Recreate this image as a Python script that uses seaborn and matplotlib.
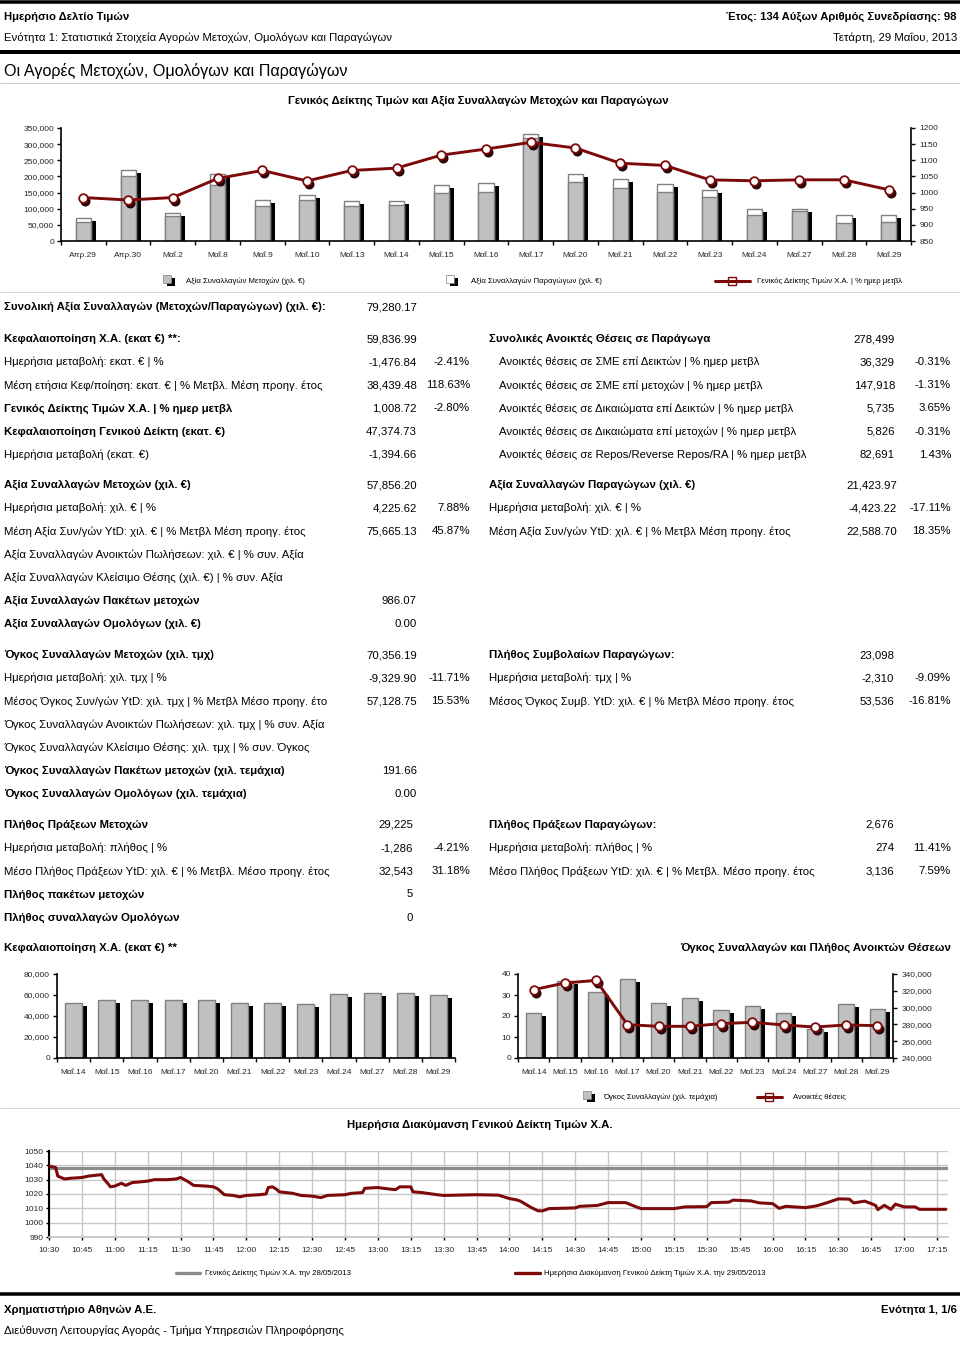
import numpy as np
import pandas as pd
import seaborn as sns
import matplotlib
matplotlib.use("Agg")
import matplotlib.pyplot as plt
import matplotlib.ticker as mticker
from matplotlib import font_manager
from matplotlib.transforms import ScaledTranslation
from matplotlib.lines import Line2D
from matplotlib.patches import Rectangle

# ---------------- data ----------------
top_dates = ['Απρ.29', 'Απρ.30', 'Μαΐ.2', 'Μαΐ.8', 'Μαΐ.9', 'Μαΐ.10', 'Μαΐ.13', 'Μαΐ.14', 'Μαΐ.15',
             'Μαΐ.16', 'Μαΐ.17', 'Μαΐ.20', 'Μαΐ.21', 'Μαΐ.22', 'Μαΐ.23', 'Μαΐ.24', 'Μαΐ.27', 'Μαΐ.28', 'Μαΐ.29']
top_shares = [60000, 200000, 76600, 172000, 107700, 127400, 107700, 111800, 148000,
              153000, 319000, 184000, 163600, 153000, 137700, 80800, 93000, 56000, 57856]
top_derivs = [12500, 18500, 11400, 35000, 19700, 16600, 16300, 12200, 24000,
              26000, 13000, 23000, 26900, 23000, 21800, 19600, 7400, 24700, 21424]
top_index = [984.6, 977.0, 984.6, 1043.6, 1068.5, 1036.0, 1068.5, 1075.7, 1116.0,
             1134.8, 1155.5, 1138.0, 1091.0, 1084.0, 1039.5, 1036.4, 1039.5, 1039.5, 1008.7]

bot_dates = ['Μαΐ.14', 'Μαΐ.15', 'Μαΐ.16', 'Μαΐ.17', 'Μαΐ.20', 'Μαΐ.21', 'Μαΐ.22', 'Μαΐ.23',
             'Μαΐ.24', 'Μαΐ.27', 'Μαΐ.28', 'Μαΐ.29']
mcap = [52400, 54900, 54900, 54900, 54900, 52400, 52400, 51100, 61000, 61900, 61900, 59837]
deriv_volume = [21.4, 36.5, 31.6, 37.6, 26.2, 28.6, 23.0, 24.9, 21.4, 14.0, 25.7, 23.1]
open_positions = [321300, 329300, 332400, 279700, 277700, 277700, 280900, 282500, 279300, 276900, 279300, 278499]

intra_times = ['10:30', '10:33', '10:34', '10:37', '10:40', '10:45', '10:48', '10:54', '10:55', '10:57',
               '10:58', '11:00', '11:03', '11:05', '11:08', '11:12', '11:15', '11:18', '11:24', '11:28',
               '11:30', '11:33', '11:36', '11:42', '11:45', '11:47', '11:50', '11:54', '11:57', '12:00',
               '12:06', '12:09', '12:10', '12:12', '12:14', '12:15', '12:21', '12:25', '12:30', '12:34',
               '12:37', '12:45', '12:48', '12:53', '12:54', '13:00', '13:05', '13:08', '13:10', '13:15',
               '13:16', '13:20', '13:27', '13:30', '13:45', '13:55', '14:00', '14:03', '14:05', '14:10',
               '14:13', '14:15', '14:18', '14:30', '14:32', '14:40', '14:45', '14:53', '14:57', '15:00',
               '15:15', '15:20', '15:30', '15:32', '15:40', '15:42', '15:50', '15:54', '16:00', '16:03',
               '16:06', '16:15', '16:20', '16:25', '16:30', '16:35', '16:37', '16:42', '16:45', '16:47',
               '16:48', '16:51', '16:54', '16:56', '17:00', '17:05', '17:07', '17:19']
intra_values = [1039.5, 1038.5, 1032.5, 1030.5, 1031.0, 1031.5, 1032.5, 1033.5, 1030.5, 1027.0,
                1025.0, 1025.5, 1027.5, 1026.0, 1028.0, 1028.5, 1029.0, 1030.0, 1030.0, 1030.5,
                1031.5, 1029.0, 1026.0, 1025.5, 1025.0, 1023.5, 1019.5, 1019.0, 1018.0, 1019.0,
                1019.5, 1020.0, 1024.5, 1025.0, 1023.0, 1021.5, 1020.5, 1019.0, 1018.5, 1017.5,
                1019.0, 1019.5, 1020.5, 1021.0, 1024.0, 1024.5, 1023.5, 1023.0, 1025.0, 1025.0,
                1021.5, 1021.0, 1019.5, 1019.0, 1019.5, 1019.2, 1016.8, 1016.0, 1015.0, 1010.5,
                1008.3, 1008.2, 1009.8, 1010.3, 1011.4, 1012.0, 1014.0, 1014.0, 1011.5, 1009.8,
                1009.8, 1011.0, 1011.2, 1014.0, 1014.3, 1015.7, 1015.2, 1013.8, 1013.3, 1010.0,
                1011.4, 1010.5, 1011.7, 1014.0, 1016.6, 1016.4, 1013.8, 1015.0, 1013.3, 1012.0,
                1009.1, 1012.1, 1009.3, 1012.9, 1011.0, 1011.0, 1009.3, 1009.3]
prev_close = 1037.8
intra_ticks = ['10:30', '10:45', '11:00', '11:15', '11:30', '11:45', '12:00', '12:15', '12:30', '12:45',
               '13:00', '13:15', '13:30', '13:45', '14:00', '14:15', '14:30', '14:45', '15:00', '15:15',
               '15:30', '15:45', '16:00', '16:15', '16:30', '16:45', '17:00', '17:15']

# table content
total_label = 'Συνολική Αξία Συναλλαγών (Μετοχών/Παραγώγων) (χιλ. €):'
total_value = '79,280.17'

left_sections = [
    [('Κεφαλαιοποίηση Χ.Α. (εκατ €) **:', '59,836.99', '', True),
     ('Ημερήσια μεταβολή: εκατ. € | %', '-1,476.84', '-2.41%', False),
     ('Μέση ετήσια Κεφ/ποίηση: εκατ. € | % Μετβλ. Μέση προηγ. έτος', '38,439.48', '118.63%', False),
     ('Γενικός Δείκτης Τιμών Χ.Α. | % ημερ μετβλ', '1,008.72', '-2.80%', True),
     ('Κεφαλαιοποίηση Γενικού Δείκτη (εκατ. €)', '47,374.73', '', True),
     ('Ημερήσια μεταβολή (εκατ. €)', '-1,394.66', '', False)],
    [('Αξία Συναλλαγών Μετοχών (χιλ. €)', '57,856.20', '', True),
     ('Ημερήσια μεταβολή: χιλ. € | %', '4,225.62', '7.88%', False),
     ('Μέση Αξία Συν/γών YtD: χιλ. € | % Μετβλ Μέση προηγ. έτος', '75,665.13', '45.87%', False),
     ('Αξία Συναλλαγών Ανοικτών Πωλήσεων: χιλ. € | % συν. Αξία', '', '', False),
     ('Αξία Συναλλαγών Κλείσιμο Θέσης (χιλ. €) | % συν. Αξία', '', '', False),
     ('Αξία Συναλλαγών Πακέτων μετοχών', '986.07', '', True),
     ('Αξία Συναλλαγών Ομολόγων (χιλ. €)', '0.00', '', True)],
    [('Όγκος Συναλλαγών Μετοχών (χιλ. τμχ)', '70,356.19', '', True),
     ('Ημερήσια μεταβολή: χιλ. τμχ | %', '-9,329.90', '-11.71%', False),
     ('Μέσος Όγκος Συν/γών YtD: χιλ. τμχ | % Μετβλ Μέσο προηγ. έτο', '57,128.75', '15.53%', False),
     ('Όγκος Συναλλαγών Ανοικτών Πωλήσεων: χιλ. τμχ | % συν. Αξία', '', '', False),
     ('Όγκος Συναλλαγών Κλείσιμο Θέσης: χιλ. τμχ | % συν. Όγκος', '', '', False),
     ('Όγκος Συναλλαγών Πακέτων μετοχών (χιλ. τεμάχια)', '191.66', '', True),
     ('Όγκος Συναλλαγών Ομολόγων (χιλ. τεμάχια)', '0.00', '', True)],
    [('Πλήθος Πράξεων Μετοχών', '29,225', '', True),
     ('Ημερήσια μεταβολή: πλήθος | %', '-1,286', '-4.21%', False),
     ('Μέσο Πλήθος Πράξεων YtD: χιλ. € | % Μετβλ. Μέσο προηγ. έτος', '32,543', '31.18%', False),
     ('Πλήθος πακέτων μετοχών', '5', '', True),
     ('Πλήθος συναλλαγών Ομολόγων', '0', '', True)],
]
right_sections = [
    [('Συνολικές Ανοικτές Θέσεις σε Παράγωγα', '278,499', '', True),
     ('Ανοικτές θέσεις σε ΣΜΕ επί Δεικτών | % ημερ μετβλ', '36,329', '-0.31%', False),
     ('Ανοικτές θέσεις σε ΣΜΕ επί μετοχών | % ημερ μετβλ', '147,918', '-1.31%', False),
     ('Ανοικτές θέσεις σε Δικαιώματα επί Δεικτών | % ημερ μετβλ', '5,735', '3.65%', False),
     ('Ανοικτές θέσεις σε Δικαιώματα επί μετοχών | % ημερ μετβλ', '5,826', '-0.31%', False),
     ('Ανοικτές θέσεις σε Repos/Reverse Repos/RA | % ημερ μετβλ', '82,691', '1.43%', False)],
    [('Αξία Συναλλαγών Παραγώγων (χιλ. €)', '21,423.97', '', True),
     ('Ημερήσια μεταβολή: χιλ. € | %', '-4,423.22', '-17.11%', False),
     ('Μέση Αξία Συν/γών YtD: χιλ. € | % Μετβλ Μέση προηγ. έτος', '22,588.70', '18.35%', False)],
    [('Πλήθος Συμβολαίων Παραγώγων:', '23,098', '', True),
     ('Ημερήσια μεταβολή: τμχ | %', '-2,310', '-9.09%', False),
     ('Μέσος Όγκος Συμβ. YtD: χιλ. € | % Μετβλ Μέσο προηγ. έτος', '53,536', '-16.81%', False)],
    [('Πλήθος Πράξεων Παραγώγων:', '2,676', '', True),
     ('Ημερήσια μεταβολή: πλήθος | %', '274', '11.41%', False),
     ('Μέσο Πλήθος Πράξεων YtD: χιλ. € | % Μετβλ. Μέσο προηγ. έτος', '3,136', '7.59%', False)],
]

# ---------------- style ----------------
sns.set_theme(style='white')
names = {f.name for f in font_manager.fontManager.ttflist}
NARROW = 'Liberation Sans Narrow' in names
TXT_FAM = (['Liberation Sans Narrow'] if NARROW else ['Liberation Sans']) + ['DejaVu Sans']
plt.rcParams['font.family'] = ['Liberation Sans', 'DejaVu Sans']
K = 1.0 if NARROW else 0.91

RED = '#7d0a0a'
GRAY = '#c0c0c0'
EDGE = '#808080'

W, H = 960, 1348
fig = plt.figure(figsize=(9.6, 13.48), dpi=100)
fig.patch.set_facecolor('white')


def axes_px(x0, y_top, x1, y_bot):
    return fig.add_axes([x0 / W, 1 - y_bot / H, (x1 - x0) / W, (y_bot - y_top) / H])


def txt(x, y, s, size=9.0, bold=False, ha='left', fam=None, color='black'):
    fig.text(x / W, 1 - y / H, s, fontsize=size * K, fontweight='bold' if bold else 'normal',
             ha=ha, va='center', family=fam or TXT_FAM, color=color)


def hline(y, x0=0, x1=960, lw_px=1.0, color='black'):
    fig.add_artist(Line2D([x0 / W, x1 / W], [1 - y / H, 1 - y / H], lw=lw_px * 0.72,
                          color=color, transform=fig.transFigure, solid_capstyle='butt'))


def rect_px(x, y, w, h, fc, ec='none', lw=0.0):
    fig.add_artist(Rectangle((x / W, 1 - (y + h) / H), w / W, h / H, facecolor=fc, edgecolor=ec,
                             lw=lw, transform=fig.transFigure))


def offset(dx, dy):
    return ScaledTranslation(dx / 100.0, -dy / 100.0, fig.dpi_scale_trans)


def shadow_bars(ax, n, heights, width):
    bars = ax.bar(np.arange(n), heights, width=width, color='black', linewidth=0, zorder=0.5)
    for b in bars:
        b.set_transform(ax.transData + offset(5, 3))


def style_cat_axis(ax, n, labelsize=6.0, pad=7):
    ax.set_xlim(-0.5, n - 0.5)
    ax.set_xlabel('')
    ax.set_ylabel('')
    ax.xaxis.set_minor_locator(mticker.FixedLocator(np.arange(-0.5, n, 1.0)))
    ax.tick_params(axis='x', which='major', length=0, labelsize=labelsize, pad=pad)
    ax.tick_params(axis='x', which='minor', length=3, width=1, color='black', direction='out', bottom=True)
    ax.tick_params(axis='y', which='major', length=3, width=1, color='black', direction='out',
                   labelsize=labelsize, pad=2, left=True)
    for s in ['top', 'right']:
        ax.spines[s].set_visible(False)
    for s in ['left', 'bottom']:
        ax.spines[s].set_color('black')
        ax.spines[s].set_linewidth(1.2)
    ax.set_facecolor('none')


def draw_line_markers(ax, x, y, lw=1.8):
    ax.plot(x, y, 'o', color='#2b0505', ms=6.2, zorder=2, transform=ax.transData + offset(2, 3))
    sns.lineplot(x=x, y=y, ax=ax, color=RED, lw=lw, marker='o', markersize=6.2, markerfacecolor='white',
                 markeredgecolor=RED, markeredgewidth=1.3, estimator=None, sort=False, zorder=3)
    ax.set_xlabel('')
    ax.set_ylabel('')


# ---------------- header ----------------
hline(1.5, lw_px=3.5)
txt(4, 17, 'Ημερήσιο Δελτίο Τιμών', 8.9, True)
txt(957, 17, 'Έτος: 134 Αύξων Αριθμός Συνεδρίασης: 98', 8.9, True, ha='right')
txt(4, 38, 'Ενότητα 1: Στατιστικά Στοιχεία Αγορών Μετοχών, Ομολόγων και Παραγώγων', 9.0)
txt(957, 38, 'Τετάρτη, 29 Μαΐου, 2013', 9.0, ha='right')
hline(51.5, lw_px=4)
txt(4, 71, 'Οι Αγορές Μετοχών, Ομολόγων και Παραγώγων', 12.8)
hline(83, lw_px=1, color='#c8c8c8')
txt(478, 101, 'Γενικός Δείκτης Τιμών και Αξία Συναλλαγών Μετοχών και Παραγώγων', 9.0, True, ha='center')

# ---------------- top chart ----------------
n = len(top_dates)
top_total = [a + b for a, b in zip(top_shares, top_derivs)]
ax = axes_px(61, 128, 911, 241)
shadow_bars(ax, n, top_total, 0.34)
sns.barplot(x=top_dates, y=top_total, color='white', edgecolor=EDGE, linewidth=1.0, width=0.34,
            saturation=1, errorbar=None, ax=ax, zorder=1)
sns.barplot(x=top_dates, y=top_shares, color=GRAY, edgecolor=EDGE, linewidth=1.0, width=0.34,
            saturation=1, errorbar=None, ax=ax, zorder=1.1)
ax.set_ylim(0, 350000)
ax.yaxis.set_major_locator(mticker.MultipleLocator(50000))
ax.yaxis.set_major_formatter(mticker.StrMethodFormatter('{x:,.0f}'))
style_cat_axis(ax, n, labelsize=6.0, pad=8)

ax2 = ax.twinx()
draw_line_markers(ax2, np.arange(n), top_index, lw=2.1)
ax2.set_ylim(850, 1200)
ax2.yaxis.set_major_locator(mticker.MultipleLocator(50))
ax2.tick_params(axis='y', length=3, width=1, color='black', direction='out', labelsize=6.0, pad=3, right=True)
for s in ['top', 'left', 'bottom']:
    ax2.spines[s].set_visible(False)
ax2.spines['right'].set_color('black')
ax2.spines['right'].set_linewidth(1.2)
ax2.set_xlim(-0.5, n - 0.5)

# legend top chart
LEG = 6.1
rect_px(167, 278, 8, 8, 'black')
rect_px(163, 275, 8, 8, GRAY, EDGE, 0.5)
txt(186, 281, 'Αξία Συναλλαγών Μετοχών (χιλ. €)', LEG)
rect_px(450, 278, 8, 8, 'black')
rect_px(446, 275, 8, 8, 'white', EDGE, 0.5)
txt(471, 281, 'Αξία Συναλλαγών Παραγώγων (χιλ. €)', LEG)
fig.add_artist(Line2D([715 / W, 750 / W], [1 - 281 / H] * 2, color=RED, lw=2.2, transform=fig.transFigure))
rect_px(728, 277, 8, 8, 'white', RED, 1.0)
txt(757, 281, 'Γενικός Δείκτης Τιμών Χ.Α. | % ημερ μετβλ', LEG)
hline(292, color='#d6d6d6')

# ---------------- table ----------------
TS = 9.0
txt(4, 307, total_label, TS, True)
txt(417, 307, total_value, TS, ha='right')

left_starts = [339, 485, 655, 825]
left_vx = [417, 417, 417, 413]
for sec, y0, vx in zip(left_sections, left_starts, left_vx):
    for i, (lab, val, pct, bold) in enumerate(sec):
        y = y0 + i * 23.15
        txt(4, y, lab, TS, bold)
        if val:
            txt(vx, y, val, TS, ha='right')
        if pct:
            txt(470, y, pct, TS, ha='right')

right_starts = [339, 485, 655, 825]
right_vx = [895, 897, 894, 894]
for k, (sec, y0, vx) in enumerate(zip(right_sections, right_starts, right_vx)):
    for i, (lab, val, pct, bold) in enumerate(sec):
        y = y0 + i * 23.15
        lx = 499 if (k == 0 and not bold) else 489
        txt(lx, y, lab, TS, bold)
        if val:
            txt(vx, y, val, TS, ha='right')
        if pct:
            txt(951, y, pct, TS, ha='right')

txt(4, 948, 'Κεφαλαιοποίηση Χ.Α. (εκατ €) **', TS, True)
txt(951, 948, 'Όγκος Συναλλαγών και Πλήθος Ανοικτών Θέσεων', TS, True, ha='right')

# ---------------- bottom-left chart ----------------
nb = len(bot_dates)
axl = axes_px(57, 974, 455, 1058)
shadow_bars(axl, nb, mcap, 0.51)
sns.barplot(x=bot_dates, y=mcap, color=GRAY, edgecolor=EDGE, linewidth=1.0, width=0.51,
            saturation=1, errorbar=None, ax=axl, zorder=1)
axl.set_ylim(0, 80000)
axl.yaxis.set_major_locator(mticker.MultipleLocator(20000))
axl.yaxis.set_major_formatter(mticker.StrMethodFormatter('{x:,.0f}'))
style_cat_axis(axl, nb, labelsize=6.0, pad=8)

# ---------------- bottom-right chart ----------------
axr = axes_px(518, 974, 893, 1058)
shadow_bars(axr, nb, deriv_volume, 0.49)
sns.barplot(x=bot_dates, y=deriv_volume, color=GRAY, edgecolor=EDGE, linewidth=1.0, width=0.49,
            saturation=1, errorbar=None, ax=axr, zorder=1)
axr.set_ylim(0, 40)
axr.yaxis.set_major_locator(mticker.MultipleLocator(10))
style_cat_axis(axr, nb, labelsize=6.0, pad=8)
axr2 = axr.twinx()
draw_line_markers(axr2, np.arange(nb), open_positions, lw=2.1)
axr2.set_ylim(240000, 340000)
axr2.yaxis.set_major_locator(mticker.MultipleLocator(20000))
axr2.yaxis.set_major_formatter(mticker.StrMethodFormatter('{x:,.0f}'))
axr2.tick_params(axis='y', length=3, width=1, color='black', direction='out', labelsize=6.0, pad=3, right=True)
for s in ['top', 'left', 'bottom']:
    axr2.spines[s].set_visible(False)
axr2.spines['right'].set_color('black')
axr2.spines['right'].set_linewidth(1.2)
axr2.set_xlim(-0.5, nb - 0.5)

rect_px(587, 1094, 8, 8, 'black')
rect_px(583, 1091, 8, 8, GRAY, EDGE, 0.5)
txt(603, 1097, 'Όγκος Συναλλαγών (χιλ. τεμάχια)', LEG)
fig.add_artist(Line2D([757 / W, 782 / W], [1 - 1097 / H] * 2, color=RED, lw=2.2, transform=fig.transFigure))
rect_px(765, 1093, 8, 8, 'white', RED, 1.0)
txt(793, 1097, 'Ανοικτές θέσεις', LEG)
hline(1108, color='#d6d6d6')

# ---------------- intraday chart ----------------
txt(480, 1125, 'Ημερήσια Διακύμανση Γενικού Δείκτη Τιμών Χ.Α.', TS, True, ha='center')


def to_min(t):
    h, m = t.split(':')
    return int(h) * 60 + int(m) - 630


intra = pd.DataFrame({'t': [to_min(t) for t in intra_times], 'v': intra_values})
axi = axes_px(49, 1151, 948, 1237)
axi.axhline(prev_close, color='#8c8c8c', lw=2.3, zorder=2)
sns.lineplot(data=intra, x='t', y='v', ax=axi, color=RED, lw=2.2, estimator=None, zorder=3)
axi.set_xlim(0, 410)
axi.set_ylim(990, 1050)
axi.set_xticks([to_min(t) for t in intra_ticks])
axi.set_xticklabels(intra_ticks)
axi.yaxis.set_major_locator(mticker.MultipleLocator(10))
axi.grid(True, color='#c8c8c8', lw=1.0)
axi.set_axisbelow(True)
axi.set_xlabel('')
axi.set_ylabel('')
for s in ['top', 'right']:
    axi.spines[s].set_visible(False)
axi.spines['left'].set_color('black')
axi.spines['left'].set_linewidth(1.5)
axi.spines['bottom'].set_color('#c8c8c8')
axi.tick_params(axis='both', length=2, width=1, color='black', direction='out', labelsize=6.0,
                left=True, bottom=True)
axi.tick_params(axis='x', pad=5)
axi.tick_params(axis='y', pad=2)

fig.add_artist(Line2D([176 / W, 200 / W], [1 - 1273 / H] * 2, color='#8c8c8c', lw=2.4, transform=fig.transFigure))
txt(205, 1273, 'Γενικός Δείκτης Τιμών Χ.Α. την 28/05/2013', LEG)
fig.add_artist(Line2D([515 / W, 540 / W], [1 - 1273 / H] * 2, color=RED, lw=2.4, transform=fig.transFigure))
txt(544, 1273, 'Ημερήσια Διακύμανση Γενικού Δείκτη Τιμών Χ.Α. την 29/05/2013', LEG)

# ---------------- footer ----------------
hline(1294, lw_px=3.5)
txt(4, 1310, 'Χρηματιστήριο Αθηνών Α.Ε.', 9.0, True)
txt(957, 1310, 'Ενότητα 1, 1/6', 9.0, True, ha='right')
txt(4, 1331, 'Διεύθυνση Λειτουργίας Αγοράς - Τμήμα Υπηρεσιών Πληροφόρησης', 9.0)

fig.savefig('out.png', dpi=100, facecolor='white')
